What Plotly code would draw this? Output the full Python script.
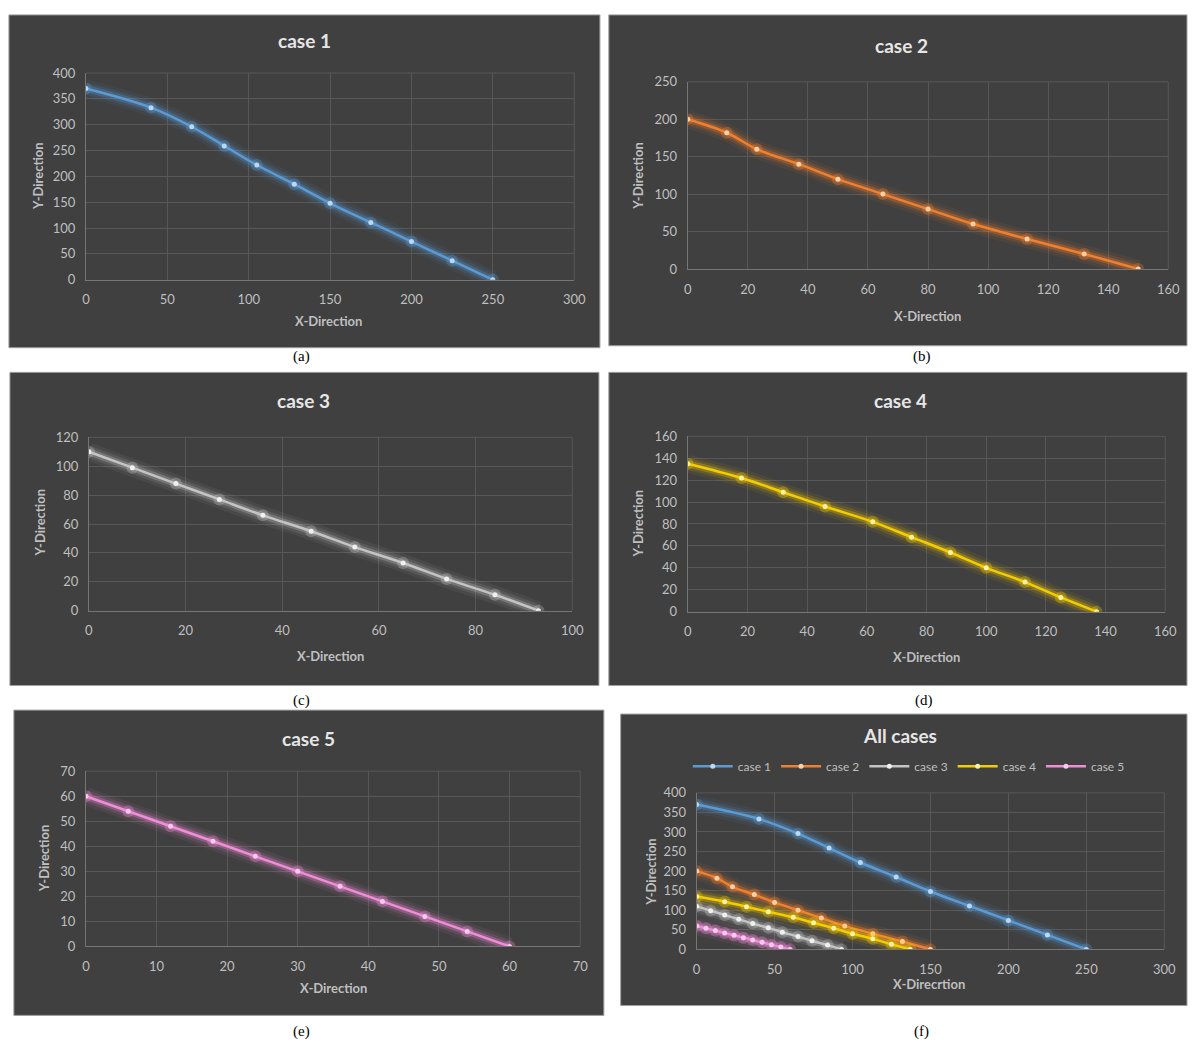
import plotly.graph_objects as go

W, H = 1199, 1048

# ---------------- data ----------------
case1_x = [0, 40, 65, 85, 105, 128, 150, 175, 200, 225, 250]
case1_y = [370, 333, 296, 259, 222, 185, 148, 111, 74, 37, 0]
case2_x = [0, 13, 23, 37, 50, 65, 80, 95, 113, 132, 150]
case2_y = [200, 182, 160, 140, 120, 100, 80, 60, 40, 20, 0]
case3_x = [0, 9, 18, 27, 36, 46, 55, 65, 74, 84, 93]
case3_y = [110, 99, 88, 77, 66, 55, 44, 33, 22, 11, 0]
case4_x = [0, 18, 32, 46, 62, 75, 88, 100, 113, 125, 137]
case4_y = [135, 122, 109, 96, 82, 68, 54, 40, 27, 13, 0]
case5_x = [0, 6, 12, 18, 24, 30, 36, 42, 48, 54, 60]
case5_y = [60, 54, 48, 42, 36, 30, 24, 18, 12, 6, 0]

series_names = ["case 1", "case 2", "case 3", "case 4", "case 5"]
panel_titles = ["case 1", "case 2", "case 3", "case 4", "case 5", "All cases"]
panel_labels = ["(a)", "(b)", "(c)", "(d)", "(e)", "(f)"]
x_titles = ["X-Direction"] * 5 + ["X-Direcrtion"]
y_title = "Y-Direction"

series = [(case1_x, case1_y), (case2_x, case2_y), (case3_x, case3_y),
          (case4_x, case4_y), (case5_x, case5_y)]

# ---------------- styles ----------------
line_rgb = [(91, 155, 213), (240, 127, 46), (196, 196, 196), (245, 204, 0), (240, 140, 216)]
marker_colors = ["#BBD8F2", "#FFD0A8", "#F0F0F0", "#FFF2A0", "#F8C8EE"]
BG = "#404040"
GRID = "#575757"
AXLINE = "#767676"
TICKC = "#BFBFBF"
FONT = "Lato"

# axis ranges / steps per panel
x_ranges = [(300, 50), (160, 20), (100, 20), (160, 20), (70, 10), (300, 50)]
y_ranges = [(400, 50), (250, 50), (120, 20), (160, 20), (70, 10), (400, 50)]

# layout geometry in pixels
panels = [
    dict(bg=(5, 7, 604, 345), plot=(83, 66, 578, 276), title=(305, 33), xt=(329, 318), yt=(35, 171), lab=(302, 354)),
    dict(bg=(613, 7, 1199, 343), plot=(693, 75, 1180, 265), title=(910, 38), xt=(936, 313), yt=(643, 170), lab=(930, 354)),
    dict(bg=(6, 370, 603, 688), plot=(86, 436, 576, 612), title=(304, 399), xt=(331, 658), yt=(36, 523), lab=(302, 703)),
    dict(bg=(613, 370, 1199, 688), plot=(693, 435, 1177, 613), title=(909, 399), xt=(935, 659), yt=(643, 523), lab=(932, 703)),
    dict(bg=(10, 713, 608, 1023), plot=(83, 775, 584, 953), title=(309, 742), xt=(334, 995), yt=(40, 863), lab=(302, 1039)),
    dict(bg=(625, 717, 1199, 1013), plot=(702, 797, 1176, 956), title=(908, 739), xt=(938, 991), yt=(655, 877), lab=(930, 1039)),
]


def px(x):
    return x / W


def py(y):
    return 1 - y / H


def rgba(c, a):
    return f"rgba({c[0]},{c[1]},{c[2]},{a})"


fig = go.Figure()


def add_series(xs, ys, k, ax, showlegend):
    xa = "x" if ax == 1 else f"x{ax}"
    ya = "y" if ax == 1 else f"y{ax}"
    c = line_rgb[k]
    for w, a in [(18, 0.07), (12, 0.13), (7, 0.28)]:
        fig.add_trace(go.Scatter(x=xs, y=ys, mode="lines",
                                 line=dict(color=rgba(c, a), width=w, shape="spline"),
                                 hoverinfo="skip", showlegend=False,
                                 xaxis=xa, yaxis=ya))
    fig.add_trace(go.Scatter(x=xs, y=ys, mode="markers",
                             marker=dict(size=12, color=rgba(c, 0.3)),
                             hoverinfo="skip", showlegend=False, xaxis=xa, yaxis=ya))
    fig.add_trace(go.Scatter(x=xs, y=ys, mode="lines+markers", name=series_names[k],
                             line=dict(color=rgba(c, 1), width=2.5, shape="spline"),
                             marker=dict(size=5, color=marker_colors[k]),
                             showlegend=showlegend, xaxis=xa, yaxis=ya))


# individual panels
for k, (xs, ys) in enumerate(series):
    add_series(xs, ys, k, k + 1, False)
# all cases panel
for k, (xs, ys) in enumerate(series):
    add_series(xs, ys, k, 6, True)

shapes = []
annotations = []
layout_axes = {}
for i, p in enumerate(panels):
    ax = i + 1
    sfx = "" if ax == 1 else str(ax)
    xk = "xaxis" + sfx
    yk = "yaxis" + sfx
    x0, y0, x1, y1 = p["plot"]
    xmax, xd = x_ranges[i]
    ymax, yd = y_ranges[i]
    common = dict(showgrid=True, gridcolor=GRID, gridwidth=1, zeroline=False,
                  showline=True, linecolor=AXLINE, linewidth=1, ticks="",
                  tickfont=dict(family=FONT, size=13, color=TICKC), fixedrange=True)
    layout_axes[xk] = dict(domain=[px(x0), px(x1)], range=[0, xmax], dtick=xd, tick0=0,
                           anchor="y" + sfx, ticklabelstandoff=8, **common)
    layout_axes[yk] = dict(domain=[py(y1), py(y0)], range=[0, ymax], dtick=yd, tick0=0,
                           anchor="x" + sfx, ticklabelstandoff=7, **common)
    bx0, by0, bx1, by1 = p["bg"]
    shapes.append(dict(type="rect", xref="paper", yref="paper", x0=px(bx0), x1=px(bx1),
                       y0=py(by1), y1=py(by0), fillcolor=BG,
                       line=dict(color="#A0A0A0", width=1), layer="below"))
    # top and right plot-area borders (grid lines at range ends)
    shapes.append(dict(type="line", xref=f"x{sfx} domain", yref=f"y{sfx} domain",
                       x0=0, x1=1, y0=1, y1=1, line=dict(color=GRID, width=1), layer="below"))
    shapes.append(dict(type="line", xref=f"x{sfx} domain", yref=f"y{sfx} domain",
                       x0=1, x1=1, y0=0, y1=1, line=dict(color=GRID, width=1), layer="below"))
    tx, ty = p["title"]
    annotations.append(dict(text=f"<b>{panel_titles[i]}</b>", x=px(tx), y=py(ty), xref="paper", yref="paper",
                            showarrow=False, xanchor="center", yanchor="middle",
                            font=dict(family=FONT, size=19, color="#E6E6E6")))
    tx, ty = p["xt"]
    annotations.append(dict(text=f"<b>{x_titles[i]}</b>", x=px(tx), y=py(ty), xref="paper", yref="paper",
                            showarrow=False, xanchor="center", yanchor="middle",
                            font=dict(family=FONT, size=13, color=TICKC)))
    tx, ty = p["yt"]
    annotations.append(dict(text=f"<b>{y_title}</b>", x=px(tx), y=py(ty), xref="paper", yref="paper",
                            showarrow=False, xanchor="center", yanchor="middle", textangle=-90,
                            font=dict(family=FONT, size=13, color=TICKC)))
    tx, ty = p["lab"]
    annotations.append(dict(text=panel_labels[i], x=px(tx), y=py(ty), xref="paper", yref="paper",
                            showarrow=False, xanchor="center", yanchor="middle",
                            font=dict(family="Liberation Serif", size=15, color="#000000")))

fig.update_layout(
    width=W, height=H, margin=dict(l=0, r=0, t=0, b=0),
    paper_bgcolor="white", plot_bgcolor="rgba(0,0,0,0)",
    shapes=shapes, annotations=annotations,
    legend=dict(orientation="h", x=px(917), y=py(770), xanchor="center", yanchor="middle",
                bgcolor="rgba(0,0,0,0)", font=dict(family=FONT, size=12, color=TICKC),
                itemwidth=40, tracegroupgap=0),
    **layout_axes,
)

fig.write_html("out.html", config={"displayModeBar": False},
               post_script="document.body.style.margin='0';document.documentElement.style.overflow='hidden';")
